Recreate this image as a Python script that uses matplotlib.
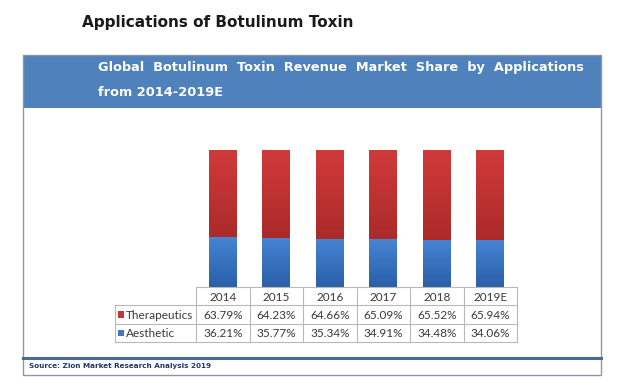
import matplotlib
matplotlib.use("Agg")
import matplotlib.pyplot as plt
import numpy as np
from matplotlib.patches import Rectangle
from matplotlib.lines import Line2D
from matplotlib.colors import LinearSegmentedColormap

years = ["2014", "2015", "2016", "2017", "2018", "2019E"]
therapeutics = [63.79, 64.23, 64.66, 65.09, 65.52, 65.94]
aesthetic = [36.21, 35.77, 35.34, 34.91, 34.48, 34.06]
series_names = ["Therapeutics", "Aesthetic"]

W, H = 630, 390
fig = plt.figure(figsize=(W / 100, H / 100), dpi=100)
fig.patch.set_facecolor("white")

def fx(x):
    return x / W

def fy(y):
    return 1 - y / H

# ---- frame elements ----
fig.text(fx(82), fy(23), "Applications of Botulinum Toxin", fontsize=11,
         fontweight="bold", color="#1a1a1a", va="center", ha="left",
         family="DejaVu Sans")

fig.add_artist(Rectangle((fx(23), fy(108)), fx(601) - fx(23), fy(55) - fy(108),
                         transform=fig.transFigure, facecolor="#4F81BD",
                         edgecolor="none", zorder=1))
fig.add_artist(Rectangle((fx(23), fy(375)), fx(601) - fx(23), fy(55) - fy(375),
                         transform=fig.transFigure, facecolor="none",
                         edgecolor="#8c98a8", lw=1.0, zorder=2))
fig.add_artist(Line2D([fx(23), fx(601)], [fy(358), fy(358)],
                      transform=fig.transFigure, color="#4a6b93", lw=2.2, zorder=3))

fig.text(fx(98), fy(67), "Global  Botulinum  Toxin  Revenue  Market  Share  by  Applications",
         fontsize=9.25, fontweight="bold", color="white", va="center", ha="left",
         family="DejaVu Sans", zorder=4)
fig.text(fx(98), fy(92), "from 2014-2019E", fontsize=9.25, fontweight="bold",
         color="white", va="center", ha="left", family="DejaVu Sans", zorder=4)

fig.text(fx(29), fy(366), "Source: Zion Market Research Analysis 2019", fontsize=5.2,
         fontweight="bold", color="#1f3a5f", va="center", ha="left",
         family="DejaVu Sans", zorder=4)

# ---- bars ----
col_w = (517 - 196) / 6.0
ax = fig.add_axes([fx(196), fy(287), fx(517) - fx(196), fy(150) - fy(287)])
ax.set_xlim(0, 6)
ax.set_ylim(0, 100)
ax.axis("off")
x = np.arange(len(years)) + 0.5
bw = 28 / col_w
b_aes = ax.bar(x, aesthetic, width=bw, color="#3d78c6", zorder=2)
b_ther = ax.bar(x, therapeutics, bottom=aesthetic, width=bw, color="#c53535", zorder=2)

def gradient(bars, top_col, bot_col):
    grad = np.linspace(0, 1, 64).reshape(-1, 1)
    cmap = LinearSegmentedColormap.from_list("g", [bot_col, top_col])
    for b in bars:
        x0, y0 = b.get_x(), b.get_y()
        w, h = b.get_width(), b.get_height()
        im = ax.imshow(grad, extent=[x0, x0 + w, y0, y0 + h], origin="lower",
                       cmap=cmap, aspect="auto", zorder=3)
        im.set_clip_path(b)

gradient(b_aes, "#4684d4", "#2b5fa8")
gradient(b_ther, "#d23a3a", "#ab2a2a")
ax.set_xlim(0, 6)
ax.set_ylim(0, 100)

# ---- data table ----
lab_w = (196 - 115) / col_w
tax = fig.add_axes([fx(115), fy(342), fx(517) - fx(115), fy(287) - fy(342)])
tax.set_xlim(-lab_w, 6)
tax.set_ylim(3, 0)
tax.axis("off")
gc = "#b8b8b8"
tax.plot([0, 6], [0, 0], color=gc, lw=0.8, clip_on=False)
for r in (1, 2, 3):
    tax.plot([-lab_w, 6], [r, r], color=gc, lw=0.8, clip_on=False)
for c in range(7):
    tax.plot([c, c], [0, 3], color=gc, lw=0.8, clip_on=False)
tax.plot([-lab_w, -lab_w], [1, 3], color=gc, lw=0.8, clip_on=False)

tfont = dict(family="Lato", fontsize=8.5, color="#3a3a3a", va="center")
for i, yr in enumerate(years):
    tax.text(i + 0.5, 0.55, yr, ha="center", **tfont)
    tax.text(i + 0.5, 1.55, f"{therapeutics[i]:.2f}%", ha="center", **tfont)
    tax.text(i + 0.5, 2.55, f"{aesthetic[i]:.2f}%", ha="center", **tfont)

sq = 6 / col_w
for r, (name, colr) in enumerate(zip(series_names, ["#c53535", "#3d78c6"])):
    tax.add_patch(Rectangle((-lab_w + 3 / col_w, r + 1.5 - 0.17), sq, 0.34,
                            facecolor=colr, edgecolor="none", clip_on=False))
    tax.text(-lab_w + 11 / col_w, r + 1.55, name, ha="left", **tfont)

fig.savefig("out.png", dpi=100, facecolor="white")
